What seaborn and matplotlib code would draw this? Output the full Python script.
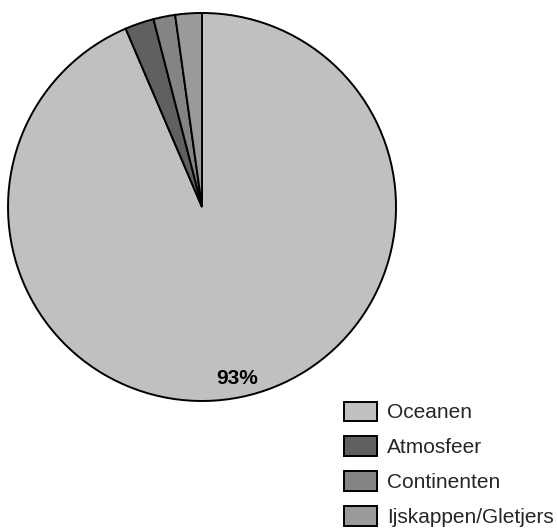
import matplotlib
matplotlib.use("Agg")
import matplotlib.pyplot as plt
import numpy as np
import seaborn as sns

# Distribution of water on Earth
categories = ["Oceanen", "Atmosfeer", "Continenten", "Ijskappen/Gletjers"]
values = [93, 2.4, 1.8, 2.2]
colors = ["#c0c0c0", "#606060", "#848484", "#9a9a9a"]

sns.set_theme(style="white")
plt.rcParams["font.family"] = ["Liberation Sans", "DejaVu Sans"]

fig = plt.figure(figsize=(5.57, 5.30), dpi=100)
fig.patch.set_facecolor("white")
ax = fig.add_axes([0.0144, 0.2434, 0.6966, 0.7321])

wedges, _ = ax.pie(
    values,
    colors=colors,
    startangle=90,
    counterclock=False,
    wedgeprops=dict(edgecolor="black", linewidth=1.4),
)
ax.set_xlim(-1, 1)
ax.set_ylim(-1, 1)
ax.set_aspect("equal")

# Label the oceans slice with its share
w = wedges[0]
mid = np.deg2rad((w.theta1 + w.theta2) / 2)
ax.text(0.9 * np.cos(mid), 0.9 * np.sin(mid), f"{values[0]}%",
        ha="center", va="center", fontsize=15, fontweight="bold", color="black")

leg = fig.legend(
    wedges, categories,
    loc="lower right", bbox_to_anchor=(1.0, 0.0),
    frameon=False, fontsize=15,
    handlelength=1.55, handleheight=1.06, handletextpad=0.5,
    labelspacing=0.67, borderaxespad=0.0, borderpad=0.15,
)

fig.savefig("out.png", dpi=100, facecolor="white")
